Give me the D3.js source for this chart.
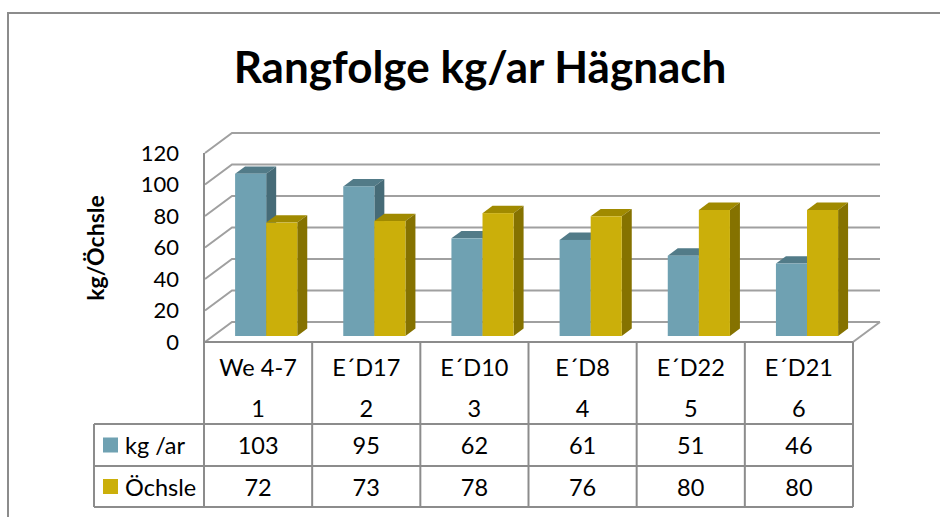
<!DOCTYPE html>
<html>
<head>
<meta charset="utf-8">
<script src="https://cdn.jsdelivr.net/npm/d3@7/dist/d3.min.js"></script>
<style>
  html, body { margin: 0; padding: 0; background: #ffffff; }
  svg { display: block; }
  text { font-family: Lato, "Open Sans", sans-serif; fill: #000; }
</style>
</head>
<body>
<svg id="chart" width="940" height="517"></svg>
<script>
// ---- data ----
const categories = ["We 4-7", "E\u00B4D17", "E\u00B4D10", "E\u00B4D8", "E\u00B4D22", "E\u00B4D21"];
const ranks = ["1", "2", "3", "4", "5", "6"];
const seriesNames = ["kg /ar", "\u00D6chsle"];
const kgAr = [103, 95, 62, 61, 51, 46];
const oechsle = [72, 73, 78, 76, 80, 80];
const yTicks = [0, 20, 40, 60, 80, 100, 120];
const titleText = "Rangfolge kg/ar H\u00E4gnach";
const yAxisTitle = "kg/\u00D6chsle";

// ---- layout ----
const svg = d3.select("#chart");
const colors = {
  blue:   { front: "#6fa1b2", top: "#527b88", side: "#466b77" },
  yellow: { front: "#cbaf0a", top: "#a08a00", side: "#857200" }
};
const seriesColors = [colors.blue, colors.yellow];
const seriesData = [kgAr, oechsle];

const plotLeft = 204, plotRight = 853;
const floorY = 342;
const depthDX = 27, depthDY = -20;
const x = d3.scaleBand().domain(categories).range([plotLeft, plotRight]).paddingInner(0).paddingOuter(0);
const y = d3.scaleLinear().domain([0, 120]).range([floorY, 153]);
const bw = x.bandwidth();
const inner = d3.scaleBand().domain(seriesNames).range([23, bw - 23]).padding(0);
const proj = (px, py, d) => [px + depthDX * d, py + depthDY * d];
const gridColor = "#a0a0a0";
const tableColor = "#8c8c8c";

// outer frame
svg.append("rect").attr("x", 8).attr("y", 13).attr("width", 960).attr("height", 540)
  .attr("fill", "#fff").attr("stroke", "#8c8c8c").attr("stroke-width", 2);

// title
svg.append("text").attr("x", 480).attr("y", 83).attr("text-anchor", "middle")
  .attr("font-size", 44).attr("font-weight", "bold").text(titleText);

// gridlines: back wall + side wall
const grid = svg.append("g").attr("stroke", gridColor).attr("stroke-width", 2).attr("fill", "none");
yTicks.forEach(v => {
  const f = [plotLeft + 1, y(v)];
  const b = proj(plotLeft + 1, y(v), 1);
  const br = proj(plotRight, y(v), 1);
  grid.append("path").attr("d", `M${f[0]},${f[1]}L${b[0]},${b[1]}L${br[0]},${br[1]}`);
});
// floor right edge
{
  const a = [plotRight, floorY], b = proj(plotRight, floorY, 1);
  grid.append("path").attr("d", `M${a[0]},${a[1]}L${b[0]},${b[1]}`);
}

// y axis labels
svg.append("g").selectAll("text").data(yTicks).join("text")
  .attr("x", 179).attr("y", d => y(d)).attr("dy", "0.35em")
  .attr("text-anchor", "end").attr("font-size", 22).text(d => d);

// y axis title
svg.append("text")
  .attr("transform", `translate(104,248) rotate(-90)`)
  .attr("text-anchor", "middle").attr("font-size", 23).attr("font-weight", "bold")
  .text(yAxisTitle);

// bars
const dFront = 0.3, dBack = 0.67;
const barsG = svg.append("g");
categories.forEach((c, i) => {
  seriesNames.forEach((s, k) => {
    const v = seriesData[k][i];
    const col = seriesColors[k];
    const x0 = x(c) + inner(s), x1 = x0 + inner.bandwidth();
    const yt = y(v), yb = y(0);
    const fl = proj(x0, yt, dFront), fr = proj(x1, yt, dFront);
    const bl = proj(x0, yt, dBack), br = proj(x1, yt, dBack);
    const fbr = proj(x1, yb, dFront), bbr = proj(x1, yb, dBack);
    const fbl = proj(x0, yb, dFront);
    barsG.append("path").attr("d", `M${fl}L${fr}L${br}L${bl}Z`).attr("fill", col.top);
    barsG.append("path").attr("d", `M${fr}L${br}L${bbr}L${fbr}Z`).attr("fill", col.side);
    barsG.append("rect").attr("x", fl[0]).attr("y", fl[1]).attr("width", x1 - x0).attr("height", fbl[1] - fl[1])
      .attr("fill", col.front);
  });
});

// data table
const legendLeft = 94;
const rowTop = [424, 466];
const tableBottom = 507;
const tbl = svg.append("g").attr("stroke", tableColor).attr("stroke-width", 2).attr("fill", "none");
tbl.append("line").attr("x1", plotLeft).attr("x2", plotRight).attr("y1", floorY).attr("y2", floorY);
[...rowTop, tableBottom].forEach(ry => {
  tbl.append("line").attr("x1", legendLeft).attr("x2", plotRight).attr("y1", ry).attr("y2", ry);
});
const bounds = categories.map(c => x(c)).concat([plotRight]);
bounds.forEach((bx, j) => {
  tbl.append("line").attr("x1", bx).attr("x2", bx)
    .attr("y1", j === 0 ? 153 : floorY).attr("y2", tableBottom);
});
tbl.append("line").attr("x1", legendLeft).attr("x2", legendLeft).attr("y1", rowTop[0]).attr("y2", tableBottom);

const fs = 23.5;
const txt = svg.append("g").attr("font-size", fs).attr("text-anchor", "middle");
categories.forEach((c, i) => {
  const cx = x(c) + bw / 2;
  txt.append("text").attr("x", cx).attr("y", 368).attr("dy", "0.35em").text(c);
  txt.append("text").attr("x", cx).attr("y", 409).attr("dy", "0.35em").text(ranks[i]);
  seriesData.forEach((arr, k) => {
    txt.append("text").attr("x", cx).attr("y", (rowTop[k] + (k === 0 ? rowTop[1] : tableBottom)) / 2 + 1)
      .attr("dy", "0.35em").text(arr[i]);
  });
});
seriesNames.forEach((s, k) => {
  const cy = (rowTop[k] + (k === 0 ? rowTop[1] : tableBottom)) / 2;
  svg.append("rect").attr("x", 103).attr("y", cy - 7.5).attr("width", 15).attr("height", 15)
    .attr("fill", seriesColors[k].front);
  svg.append("text").attr("x", 125).attr("y", cy + 1).attr("dy", "0.35em").attr("font-size", fs).text(s);
});
</script>
</body>
</html>
